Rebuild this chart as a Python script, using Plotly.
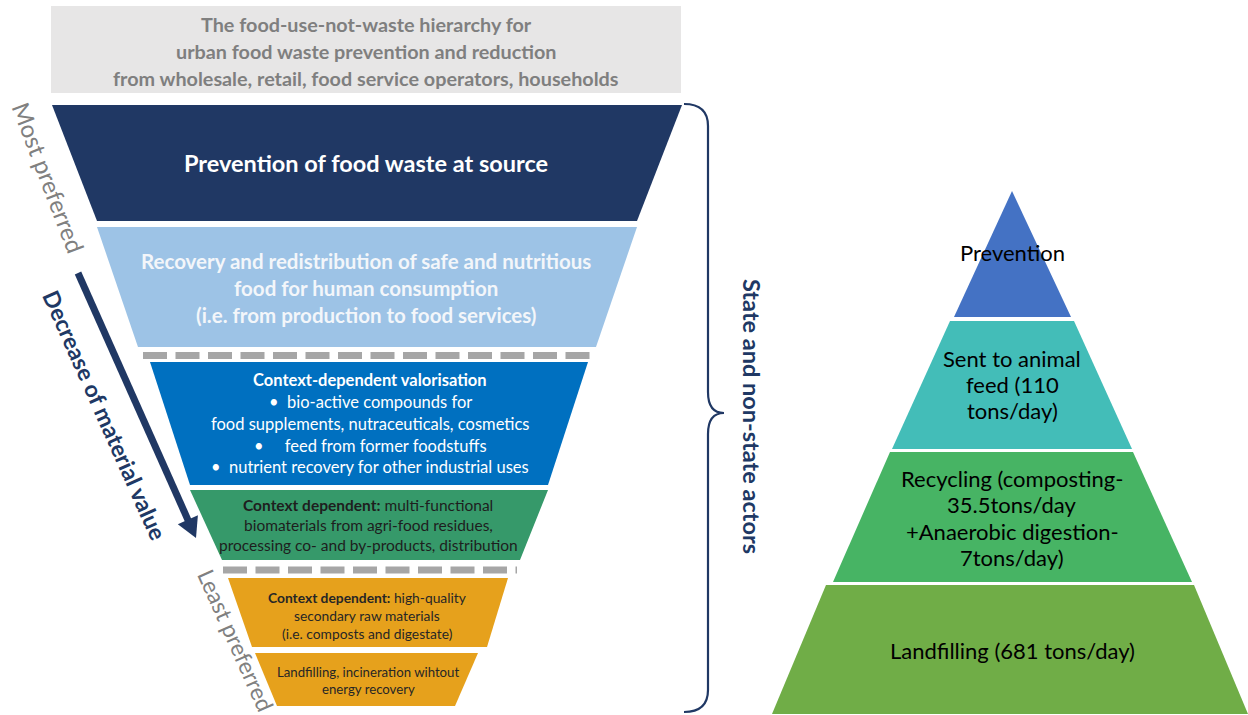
import plotly.graph_objects as go

W, H = 1248, 715
FONT = "Lato"

# ---------------- header box ----------------
title_lines = ["The food-use-not-waste hierarchy for",
               "urban food waste prevention and reduction",
               "from wholesale, retail, food service operators, households"]
title_y = [24, 51, 78]

# ---------------- inverted funnel (food-use-not-waste hierarchy) ----------------
band_colors = ["#203864", "#9dc3e6", "#0070c0", "#36996a", "#e6a11c", "#e6a11c"]
band_y_top = [105, 227, 362, 490, 578, 653]
band_y_bot = [221, 347, 485, 560, 647, 706]
band_xl_top = [52, 97, 150, 190, 228, 255]
band_xr_top = [682, 637, 588, 548, 508, 478]
band_xl_bot = [97, 138, 190, 222, 252, 277]
band_xr_bot = [637, 596, 548, 520, 487, 455]

# text lines per band: (text, y, size, color)
band_text = [
    [("<b>Prevention of food waste at source</b>", 163, 23.5, "#ffffff")],
    [("<b>Recovery and redistribution of safe and nutritious</b>", 261, 20.5, "#f3f6fa"),
     ("<b>food for human consumption</b>", 288, 20.5, "#f3f6fa"),
     ("<b>(i.e. from production to food services)</b>", 315, 20.5, "#f3f6fa")],
    [("<b>Context-dependent valorisation</b>", 380, 16.5, "#ffffff"),
     ("•  bio-active compounds for", 402, 16.5, "#ffffff"),
     ("food supplements, nutraceuticals, cosmetics", 424, 16.5, "#ffffff"),
     ("•     feed from former foodstuffs", 446, 16.5, "#ffffff"),
     ("•  nutrient recovery for other industrial uses", 467, 16.5, "#ffffff")],
    [("<b>Context dependent:</b> multi-functional", 505, 15.5, "#1e1e1e"),
     ("biomaterials from agri-food residues,", 525, 15.5, "#1e1e1e"),
     ("processing co- and by-products, distribution", 545, 15.5, "#1e1e1e")],
    [("<b>Context dependent:</b> high-quality", 597, 13.8, "#262626"),
     ("secondary raw materials", 615, 13.8, "#262626"),
     ("(i.e. composts and digestate)", 633, 13.8, "#262626")],
    [("Landfilling, incineration wihtout", 672, 13.2, "#262626"),
     ("energy recovery", 689, 13.2, "#262626")],
]
band_text_x = [366, 366, 370, 368, 367, 368]

dash_rows_y = [355.5, 570]
dash_rows_x0 = [143, 223]
dash_rows_x1 = [590, 517]

# ---------------- right-hand pyramid ----------------
tier_colors = ["#4472c4", "#43bdb8", "#47b464", "#70ad47"]
tier_y_top = [191, 321, 452, 585]
tier_y_bot = [317, 449, 582, 714]
tier_xl_top = [1012, 950, 890, 826]
tier_xr_top = [1012, 1074, 1133, 1194]
tier_xl_bot = [954, 892, 833, 772]
tier_xr_bot = [1071, 1132, 1192, 1248]
tier_lines = [["Prevention"],
              ["Sent to animal", "feed (110", "tons/day)"],
              ["Recycling (composting-", "35.5tons/day", "+Anaerobic digestion-", "7tons/day)"],
              ["Landfilling (681 tons/day)"]]
tier_line_y = [[252], [358, 384, 410], [478, 504, 531, 557], [650]]
tier_text_x = 1012

fig = go.Figure()

# header box
fig.add_trace(go.Scatter(x=[51, 681, 681, 51, 51], y=[6, 6, 93, 93, 6], fill="toself",
                         fillcolor="#e7e6e6", line=dict(width=0), mode="lines",
                         hoverinfo="skip", showlegend=False))

for i in range(len(band_colors)):
    fig.add_trace(go.Scatter(
        x=[band_xl_top[i], band_xr_top[i], band_xr_bot[i], band_xl_bot[i], band_xl_top[i]],
        y=[band_y_top[i], band_y_top[i], band_y_bot[i], band_y_bot[i], band_y_top[i]],
        fill="toself", fillcolor=band_colors[i], line=dict(width=0), mode="lines",
        hoverinfo="skip", showlegend=False))

for j in range(len(dash_rows_y)):
    fig.add_trace(go.Scatter(x=[dash_rows_x0[j], dash_rows_x1[j]], y=[dash_rows_y[j]] * 2,
                             mode="lines", line=dict(color="#a6a6a6", width=7, dash="24px,8.5px"),
                             hoverinfo="skip", showlegend=False))

for i in range(len(tier_colors)):
    fig.add_trace(go.Scatter(
        x=[tier_xl_top[i], tier_xr_top[i], tier_xr_bot[i], tier_xl_bot[i], tier_xl_top[i]],
        y=[tier_y_top[i], tier_y_top[i], tier_y_bot[i], tier_y_bot[i], tier_y_top[i]],
        fill="toself", fillcolor=tier_colors[i], line=dict(width=0), mode="lines",
        hoverinfo="skip", showlegend=False))

# arrow "Decrease of material value"
arrow_start = (78, 273)
arrow_tip = (196, 538)
dx, dy = arrow_tip[0] - arrow_start[0], arrow_tip[1] - arrow_start[1]
L = (dx ** 2 + dy ** 2) ** 0.5
ux, uy = dx / L, dy / L
head_len, head_half = 20, 11
bx, by = arrow_tip[0] - ux * head_len, arrow_tip[1] - uy * head_len
fig.add_trace(go.Scatter(x=[arrow_start[0], bx + ux * 2], y=[arrow_start[1], by + uy * 2], mode="lines",
                         line=dict(color="#203864", width=7), hoverinfo="skip", showlegend=False))
fig.add_trace(go.Scatter(x=[arrow_tip[0], bx - uy * head_half, bx + uy * head_half, arrow_tip[0]],
                         y=[arrow_tip[1], by + ux * head_half, by - ux * head_half, arrow_tip[1]],
                         fill="toself", fillcolor="#203864", line=dict(width=0), mode="lines",
                         hoverinfo="skip", showlegend=False))

annotations = []
for t, y in zip(title_lines, title_y):
    annotations.append(dict(x=366, y=y, text="<b>" + t + "</b>", showarrow=False,
                            font=dict(family=FONT, size=19.8, color="#7f7f7f")))
for i, lines in enumerate(band_text):
    for (t, y, s, c) in lines:
        annotations.append(dict(x=band_text_x[i], y=y, text=t, showarrow=False,
                                font=dict(family=FONT, size=s, color=c)))
for lines, ys in zip(tier_lines, tier_line_y):
    for t, y in zip(lines, ys):
        annotations.append(dict(x=tier_text_x, y=y, text=t, showarrow=False,
                                font=dict(family=FONT, size=22, color="#000000")))

annotations += [
    dict(x=49, y=177, text="Most preferred", textangle=69, showarrow=False,
         font=dict(family=FONT, size=24, color="#808080")),
    dict(x=105, y=415, text="<b>Decrease of material value</b>", textangle=66, showarrow=False,
         font=dict(family=FONT, size=23, color="#203864")),
    dict(x=236, y=640, text="Least preferred", textangle=66, showarrow=False,
         font=dict(family=FONT, size=23, color="#808080")),
    dict(x=752, y=416, text="<b>State and non-state actors</b>", textangle=90, showarrow=False,
         font=dict(family=FONT, size=23.5, color="#203864")),
]

brace = ("M 684,104 Q 708,104 708,126 L 708,392 Q 708,413 724,413 "
         "Q 708,413 708,434 L 708,690 Q 708,712 684,712")

fig.update_layout(
    width=W, height=H, margin=dict(l=0, r=0, t=0, b=0),
    paper_bgcolor="white", plot_bgcolor="white",
    xaxis=dict(range=[0, W], visible=False, fixedrange=True),
    yaxis=dict(range=[H, 0], visible=False, fixedrange=True),
    annotations=annotations,
    shapes=[dict(type="path", path=brace, xref="x", yref="y",
                 line=dict(color="#203864", width=2.2))],
    showlegend=False,
)

fig.write_html("out.html", config={"displayModeBar": False},
               post_script="document.body.style.margin='0';")
